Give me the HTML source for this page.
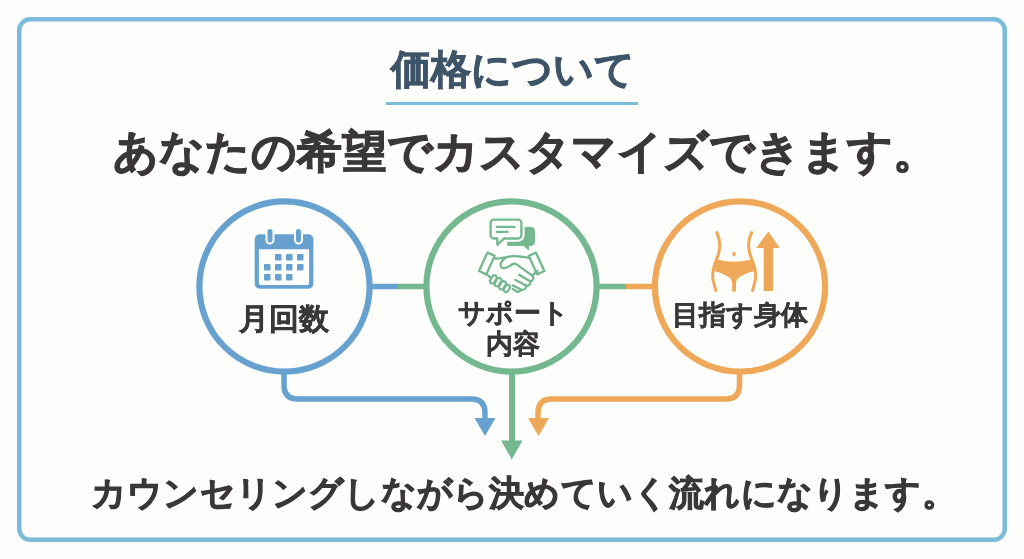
<!DOCTYPE html>
<html lang="ja">
<head>
<meta charset="utf-8">
<style>
html,body{margin:0;padding:0;width:1024px;height:559px;overflow:hidden;background:#fdfdfc;}
body{position:relative;font-family:"Liberation Sans",sans-serif;font-weight:bold;}
svg.bg{position:absolute;left:0;top:0;}
.t{position:absolute;white-space:nowrap;text-align:center;line-height:1;will-change:transform;}
#title{left:313px;top:49px;width:400px;font-size:40px;color:#3e5468;-webkit-text-stroke:0.9px #3e5468;}
#sub{left:75px;top:129px;width:900px;font-size:45px;color:#3a3836;-webkit-text-stroke:1px #3a3836;}
#c1{left:184px;top:304px;width:200px;font-size:30px;color:#3a3836;-webkit-text-stroke:0.5px #3a3836;}
#c2{left:413px;top:298px;width:200px;font-size:27px;line-height:31px;color:#3a3836;-webkit-text-stroke:0.4px #3a3836;}
#c3{left:640px;top:302px;width:200px;font-size:27px;color:#3a3836;-webkit-text-stroke:0.4px #3a3836;}
#foot{left:73.5px;top:475px;width:900px;font-size:35.3px;letter-spacing:0.2px;color:#3a3836;-webkit-text-stroke:0.9px #3a3836;}
</style>
</head>
<body>
<svg class="bg" width="1024" height="559" viewBox="0 0 1024 559">
  <!-- outer frame -->
  <rect x="19.25" y="19.25" width="985.5" height="520.5" rx="11" ry="11" fill="none" stroke="#7bbcdb" stroke-width="4.5"/>
  <!-- title underline -->
  <rect x="386" y="102" width="252" height="3" fill="#7bbddb"/>
  <!-- connectors -->
  <line x1="370" y1="286.5" x2="398" y2="286.5" stroke="#67a1cf" stroke-width="5.5"/>
  <line x1="398" y1="286.5" x2="426" y2="286.5" stroke="#74b890" stroke-width="5.5"/>
  <line x1="597" y1="286.5" x2="626" y2="286.5" stroke="#74b890" stroke-width="5.5"/>
  <line x1="626" y1="286.5" x2="655" y2="286.5" stroke="#efa857" stroke-width="5.5"/>
  <!-- flows -->
  <path d="M284 372 V385 Q284 399 298 399 H471 Q485 399 485 413 V420" fill="none" stroke="#67a1cf" stroke-width="5.5"/>
  <path d="M474.5 418 H495.5 L485 436 Z" fill="#67a1cf"/>
  <path d="M512 372 V442" fill="none" stroke="#74b890" stroke-width="6"/>
  <path d="M501 440.5 H522.5 L511.8 459.5 Z" fill="#74b890"/>
  <path d="M739.5 372 V385 Q739.5 399 725.5 399 H552 Q538 399 538 413 V420" fill="none" stroke="#efa857" stroke-width="5.5"/>
  <path d="M528 418 H549 L538.5 436 Z" fill="#efa857"/>
  <!-- circles -->
  <circle cx="284.5" cy="286.5" r="85.1" fill="#fdfdfc" stroke="#67a1cf" stroke-width="6.2"/>
  <circle cx="511.5" cy="286.5" r="85.1" fill="#fdfdfc" stroke="#74b890" stroke-width="6.2"/>
  <circle cx="740" cy="286.5" r="85.1" fill="#fdfdfc" stroke="#efa857" stroke-width="6.2"/>
  <!-- calendar icon -->
  <g fill="#67a1cf">
    <path d="M259.7 234.3 H308.4 A5 5 0 0 1 313.4 239.3 V283.7 A5 5 0 0 1 308.4 288.7 H259.7 A5 5 0 0 1 254.7 283.7 V239.3 A5 5 0 0 1 259.7 234.3 Z M258.9 249.2 V283.1 A2 2 0 0 0 260.9 285.1 H307.1 A2 2 0 0 0 309.1 283.1 V249.2 Z" fill-rule="evenodd"/>
    <rect x="264" y="264" width="6.5" height="6.5" rx="1"/>
    <rect x="275" y="254" width="6.5" height="6.5" rx="1"/><rect x="286" y="254" width="6.5" height="6.5" rx="1"/><rect x="297" y="254" width="6.5" height="6.5" rx="1"/>
    <rect x="275" y="264" width="6.5" height="6.5" rx="1"/><rect x="286" y="264" width="6.5" height="6.5" rx="1"/><rect x="297" y="264" width="6.5" height="6.5" rx="1"/>
    <rect x="264" y="274" width="6.5" height="6.5" rx="1"/><rect x="275" y="274" width="6.5" height="6.5" rx="1"/><rect x="286" y="274" width="6.5" height="6.5" rx="1"/>
  </g>
  <g fill="#67a1cf" stroke="#fdfdfc" stroke-width="2">
    <rect x="266.5" y="228" width="7" height="15.5" rx="3.5"/>
    <rect x="295" y="228" width="7" height="15.5" rx="3.5"/>
  </g>
  <!-- chat + handshake icon -->
  <g fill="none" stroke="#74b890" stroke-width="2.3" stroke-linejoin="round" stroke-linecap="round">
    <path d="M508 227.3 H531 A3.4 3.4 0 0 1 534.4 230.7 V242 A3.4 3.4 0 0 1 531 245.4 H528.5 V250 L523.5 245.4 H508 Z" fill="#74b890" stroke-width="1"/>
    <path d="M494 219.6 H518 A3.4 3.4 0 0 1 521.4 223 V235.1 A3.4 3.4 0 0 1 518 238.5 H504 L497.3 244.8 V238.5 H494 A3.4 3.4 0 0 1 490.6 235.1 V223 A3.4 3.4 0 0 1 494 219.6 Z" fill="#fdfdfc" stroke="#fdfdfc" stroke-width="6.5"/>
    <path d="M494 219.6 H518 A3.4 3.4 0 0 1 521.4 223 V235.1 A3.4 3.4 0 0 1 518 238.5 H504 L497.3 244.8 V238.5 H494 A3.4 3.4 0 0 1 490.6 235.1 V223 A3.4 3.4 0 0 1 494 219.6 Z" fill="#fdfdfc"/>
    <path d="M496.8 226.9 H514.6 M496.8 231.9 H507.6"/>
    <!-- cuffs -->
    <path d="M487.5 252.6 L494.6 255.9 L486.3 274.4 L479 271 Z"/>
    <path d="M535.9 252.6 L528.8 255.9 L537.1 274.4 L544.4 271 Z"/>
    <!-- arm top line -->
    <path d="M494.8 258.3 C500 259.5 506 256.8 512.5 256.2 C519 255.7 524 257.3 529.5 258"/>
    <!-- thumb + right hand -->
    <path d="M505.5 258 C501.5 260.5 499.5 264.5 501.2 267 C503 269.3 507 268 512.2 264.3 C514 263.3 515.5 263.6 517 264.6 L532.2 275.6"/>
    <path d="M532.2 275.6 C534.2 277.8 533.5 280.5 530.5 281.5 C530.8 284.2 528.8 285.8 526.3 286 C526 288.8 523.8 290 521.3 289.8 C520.2 292 517.5 292.3 515.5 290.8 L512.8 289"/>
    <path d="M519 274.8 L530 281.2 M515.4 280 L526 285.6 M512.8 285.4 L521 289.5"/>
    <path d="M537.5 270.8 L532.2 275.6"/>
    <path d="M486.5 274.2 L490.2 277.2"/>
  </g>
  <g fill="none" stroke="#74b890" stroke-width="2.2">
    <rect x="-2.3" y="-4.5" width="4.6" height="9" rx="2.3" transform="translate(493.3 279.4) rotate(31)"/>
    <rect x="-2.3" y="-4.5" width="4.6" height="9" rx="2.3" transform="translate(498.1 282.1) rotate(31)"/>
    <rect x="-2.3" y="-4.5" width="4.6" height="9" rx="2.3" transform="translate(502.5 285.3) rotate(31)"/>
    <rect x="-2.3" y="-3.9" width="4.6" height="7.8" rx="2.3" transform="translate(506.8 288.4) rotate(31)"/>
  </g>
  <!-- body + arrow icon -->
  <g fill="#efa857">
    <path d="M716.8 232.5 Q720.5 240 719.6 248 Q719 254 715.5 262 Q711.2 272 713.5 282 L715.8 290.5" fill="none" stroke="#efa857" stroke-width="3" stroke-linecap="round"/>
    <path d="M751.6 232.5 Q747.9 240 748.8 248 Q749.4 254 752.9 262 Q757.2 272 754.9 282 L752.6 290.5" fill="none" stroke="#efa857" stroke-width="3" stroke-linecap="round"/>
    <ellipse cx="734" cy="254" rx="1.7" ry="2.2"/>
    <path d="M717.5 259.6 Q734 264 751 259.6 Q753.8 265 754.6 271 Q744 273.5 738.6 277.8 Q736 280 736 283 V290 A1.9 1.9 0 0 1 732.2 290 V283 Q732.2 280 729.6 277.8 Q724.2 273.5 713.6 271 Q714.4 265 717.5 259.6 Z"/>
    <path d="M763.7 291 V247.9 H756.2 L768.4 231.4 L779.8 247.9 H773 V291 Z"/>
  </g>
</svg>
<div class="t" id="title">価格について</div>
<div class="t" id="sub">あなたの希望でカスタマイズできます。</div>
<div class="t" id="c1">月回数</div>
<div class="t" id="c2">サポート<br>内容</div>
<div class="t" id="c3">目指す身体</div>
<div class="t" id="foot">カウンセリングしながら決めていく流れになります。</div>
</body>
</html>
